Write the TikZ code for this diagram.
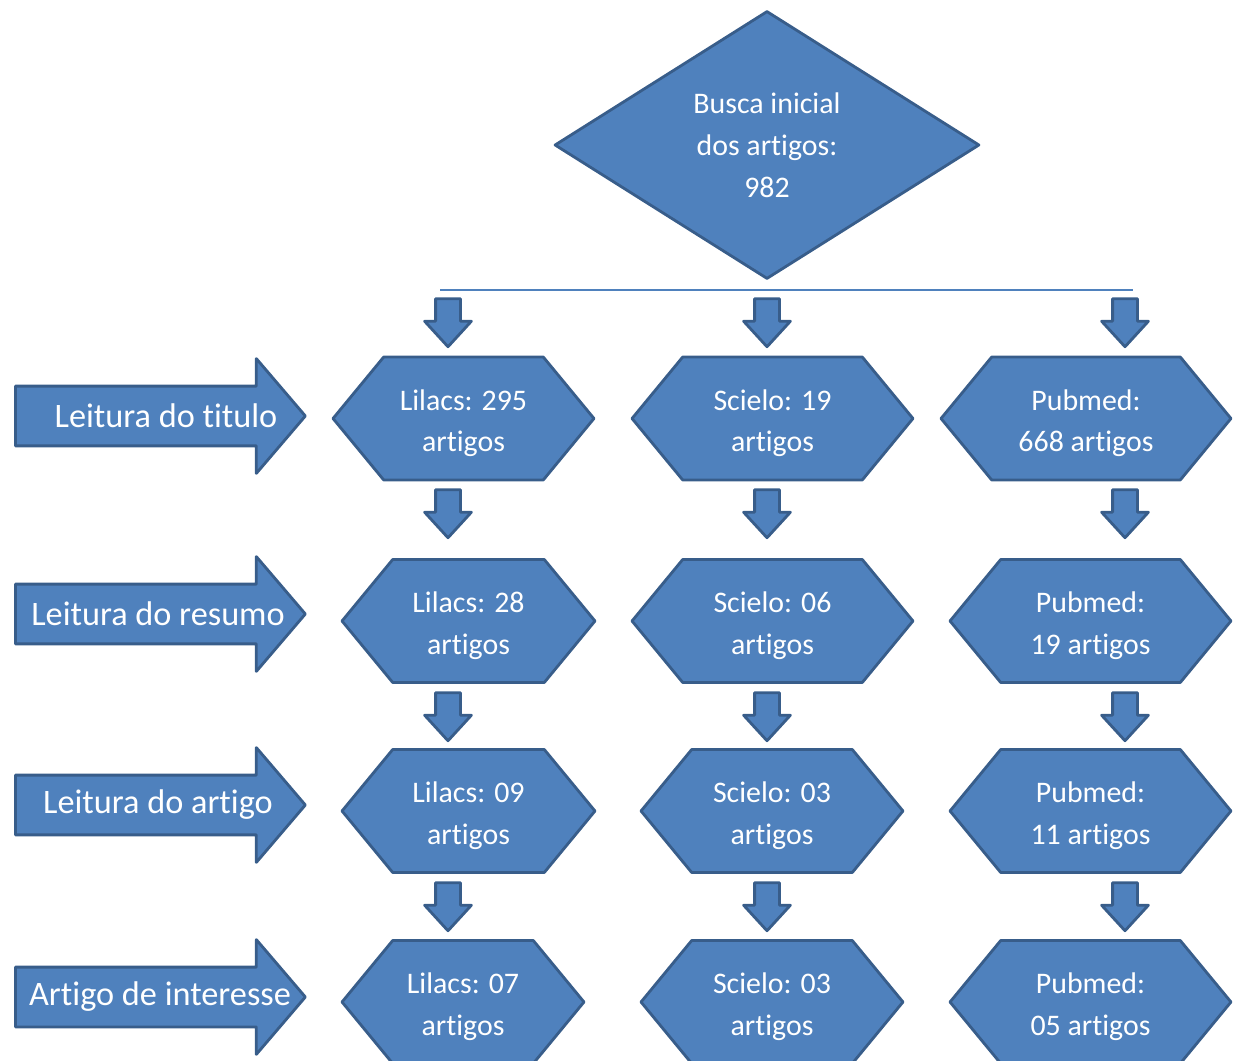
\documentclass[tikz,border=0pt]{standalone}
\usepackage{fontspec}
\setmainfont[Ligatures=NoCommon]{Carlito}
\usetikzlibrary{shapes.geometric,shapes.symbols,shapes.arrows}
\definecolor{caixa}{RGB}{79,129,189}
\definecolor{borda}{RGB}{56,93,138}
\tikzset{
	base/.style={fill=caixa, draw=borda, line width=1.6pt, text=white, inner sep=0pt, line join=round},
	busca/.style={base, diamond, aspect=1.586, minimum width=8.5cm, minimum height=5.36cm, align=center, font=\fontsize{17}{23.8}\selectfont},
	hexa/.style={base, signal, signal to=west and east, signal pointer angle=101, minimum height=2.46cm, minimum width=#1, align=center, text height=42pt, text depth=4pt, font=\fontsize{17}{23.8}\selectfont},
	etapa/.style={base, single arrow, single arrow tip angle=99, single arrow head extend=0.55cm, single arrow head indent=0pt, inner xsep=0pt, inner ysep=0.57cm, minimum height=5.8cm, anchor=tail},
	etapatxt/.style={text=white, inner sep=0pt, font=\fontsize{19.5}{24}\selectfont},
	desce/.style={base, single arrow, rotate=-90, single arrow tip angle=85, single arrow head extend=0.22cm, single arrow head indent=0pt, inner xsep=0pt, inner ysep=0.22cm, minimum height=0.96cm},
}
\begin{document}
\begin{tikzpicture}[x=0.02cm, y=-0.02cm]
	\useasboundingbox (0,0) rectangle (1235,1061);
	\path
	(440,290) coordinate (hl)
	(1133,290) coordinate (hr)
	;
	\node[busca] (B) at (767,145) {Busca inicial\\dos artigos:\\982};
	\draw[caixa, line width=0.9pt] (hl)--(hr);
	% bases por etapa
	\node[hexa=5.22cm] (L1) at (463.5,418.5) {Lilacs: 295\\artigos};
	\node[hexa=5.62cm] (S1) at (772.5,418.5) {Scielo: 19\\artigos};
	\node[hexa=5.8cm]  (P1) at (1086,418.5) {Pubmed:\\668 artigos};
	\node[hexa=5.06cm] (L2) at (468.5,621) {Lilacs: 28\\artigos};
	\node[hexa=5.62cm] (S2) at (772.5,621) {Scielo: 06\\artigos};
	\node[hexa=5.62cm] (P2) at (1090.5,621) {Pubmed:\\19 artigos};
	\node[hexa=5.06cm] (L3) at (468.5,811) {Lilacs: 09\\artigos};
	\node[hexa=5.24cm] (S3) at (772,811) {Scielo: 03\\artigos};
	\node[hexa=5.62cm] (P3) at (1090.5,811) {Pubmed:\\11 artigos};
	\node[hexa=4.84cm] (L4) at (463,1002) {Lilacs: 07\\artigos};
	\node[hexa=5.24cm] (S4) at (772,1002) {Scielo: 03\\artigos};
	\node[hexa=5.62cm] (P4) at (1090.5,1002) {Pubmed:\\05 artigos};
	% setas das etapas
	\foreach \y/\x/\t [count=\i] in {416/166/Leitura do titulo, 614/158/Leitura do resumo, 805/158/Leitura do artigo, 997/160/Artigo de interesse}{
		\node[etapa] (E\i) at (14,\y) {};
		\node[etapatxt] (T\i) at (\x,\y) {\t};
	}
	% setas para baixo
	\foreach \x [count=\i] in {448,767,1125}
	\foreach \y [count=\j] in {316,507,710,900}
	\node[desce] (D\i\j) at (\x,\y) {};
\end{tikzpicture}
\end{document}
